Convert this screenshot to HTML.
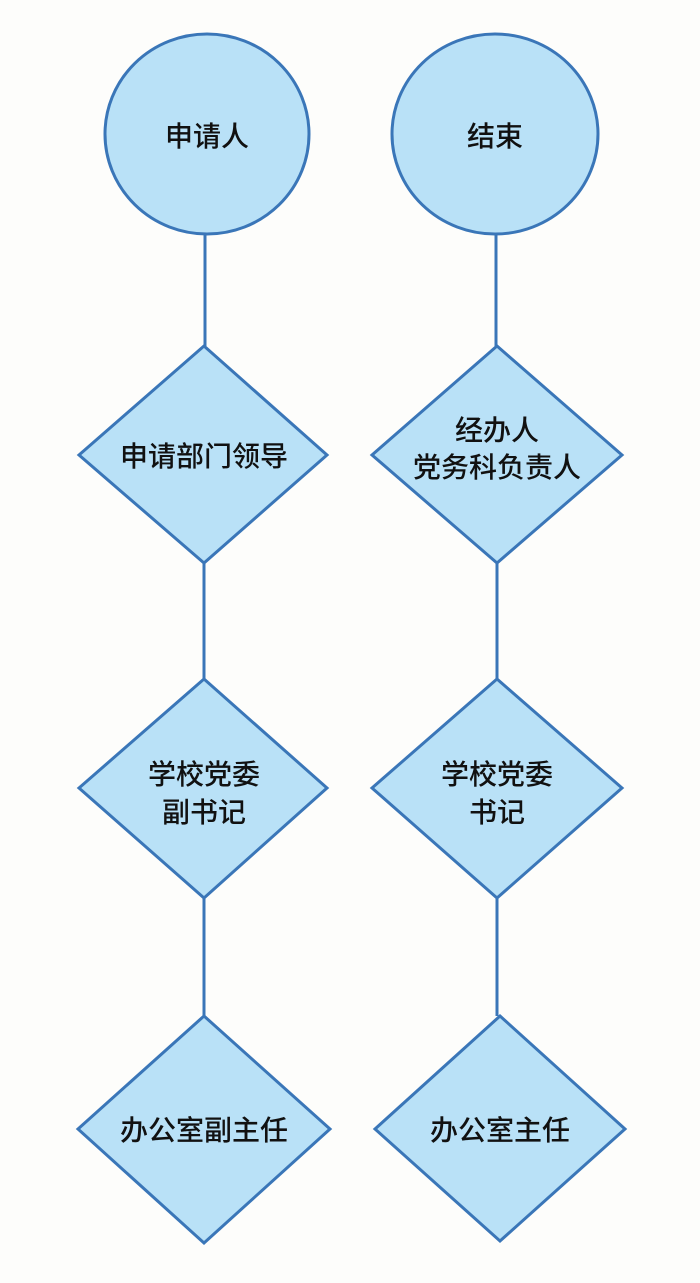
<!DOCTYPE html>
<html><head><meta charset="utf-8"><style>
body{margin:0;background:#fdfdfb;}
svg text{font-family:"Liberation Sans","Noto Sans CJK SC",sans-serif;font-size:28px;font-weight:500;fill:#111;text-anchor:middle;}
</style></head><body>
<svg width="700" height="1278" viewBox="0 0 700 1278" xmlns="http://www.w3.org/2000/svg">
<g stroke="#3a76b8" stroke-width="3" fill="#b9e1f7">
<line x1="205" y1="234" x2="205" y2="346"/>
<line x1="204" y1="563" x2="204" y2="679"/>
<line x1="204" y1="898" x2="204" y2="1016"/>
<line x1="496" y1="234" x2="496" y2="346"/>
<line x1="497" y1="563" x2="497" y2="679"/>
<line x1="497" y1="898" x2="497" y2="1016"/>
<ellipse cx="207" cy="134" rx="102" ry="100"/>
<ellipse cx="495" cy="134" rx="103" ry="100"/>
<polygon points="204,346 327,455 204,563 79,455"/>
<polygon points="497,346 622,455 497,563 372,455"/>
<polygon points="204,679 327,788 204,898 79,788"/>
<polygon points="497,679 622,788 497,898 372,788"/>
<polygon points="204,1016 330,1129 204,1243 78,1129"/>
<polygon points="500,1016 625,1129 500,1241 375,1129"/>
</g>
<text x="207" y="146">申请人</text>
<text x="495" y="146">结束</text>
<text x="204" y="466">申请部门领导</text>
<text x="497" y="440">经办人</text>
<text x="497" y="477">党务科负责人</text>
<text x="204" y="784">学校党委</text>
<text x="204" y="822">副书记</text>
<text x="497" y="784">学校党委</text>
<text x="497" y="822">书记</text>
<text x="204" y="1140">办公室副主任</text>
<text x="500" y="1140">办公室主任</text>
</svg>
</body></html>
